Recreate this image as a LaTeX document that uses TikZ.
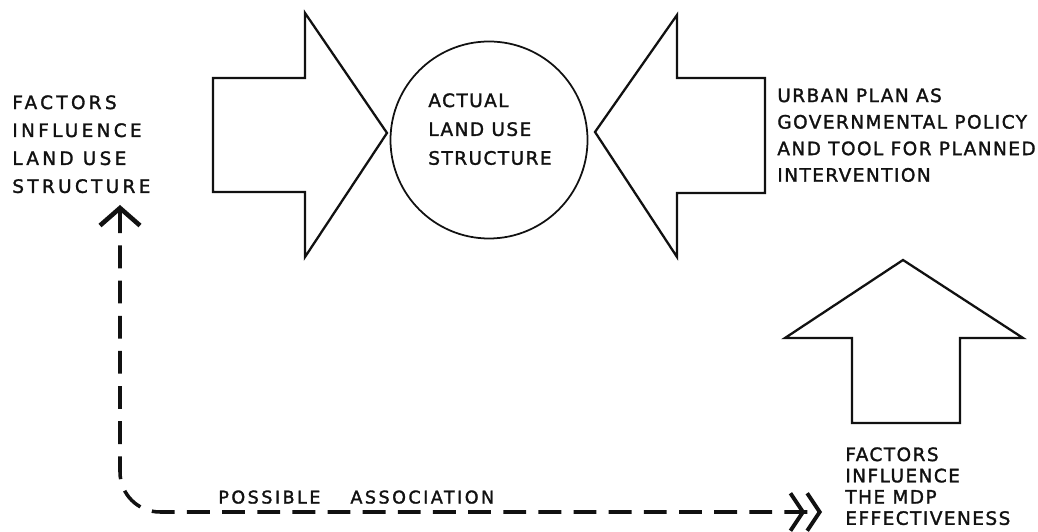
\documentclass[tikz,border=0pt]{standalone}
\usepackage{fontspec}
\usepackage{tikz}
\usetikzlibrary{arrows.meta}
\newfontfamily\handfont[LetterSpace=8, FakeBold=1.6]{DejaVu Sans}
\definecolor{ink}{HTML}{111111}

\begin{document}
\begin{tikzpicture}[
  bigarrow/.style={draw=ink, line width=1.3pt, line join=miter},
  handtext/.style={text=ink, align=left, inner sep=0pt, anchor=north west},
  assoc/.style={draw=ink, line width=2pt, dash pattern=on 13pt off 7pt, rounded corners=0.8cm}
]
  \useasboundingbox (0,0) rectangle (20.76,10.62);
  % 左边的大箭头，指向圆
  \draw[bigarrow] (4.26,9.06) -- (6.10,9.06) -- (6.10,10.36) -- (7.74,7.96)
    -- (6.10,5.48) -- (6.10,6.78) -- (4.26,6.78) -- cycle;
  % 右边的大箭头，指向圆
  \draw[bigarrow] (15.30,9.06) -- (13.54,9.06) -- (13.54,10.32) -- (11.90,7.98)
    -- (13.54,5.48) -- (13.54,6.76) -- (15.30,6.76) -- cycle;
  % 向上的箭头
  \draw[bigarrow] (17.04,2.16) -- (17.04,3.86) -- (15.70,3.86) -- (18.06,5.42)
    -- (20.46,3.86) -- (19.20,3.86) -- (19.20,2.16) -- cycle;
  % 圆：实际土地利用结构
  \node[draw=ink, line width=1.0pt, circle, minimum size=3.94cm, inner sep=0pt] (landuse) at (9.78,7.82) {};
  \node[handtext, font=\handfont\fontsize{10.5}{16.4}\selectfont] (actual) at (8.56,8.76) {ACTUAL\\LAND USE\\STRUCTURE};
  % 文字
  \node[handtext, font=\handfont\addfontfeature{LetterSpace=18}\fontsize{10.5}{15.9}\selectfont] (factorsland) at (0.24,8.72) {FACTORS\\INFLUENCE\\LAND USE\\STRUCTURE};
  \node[handtext, font=\handfont\fontsize{10.5}{15.1}\selectfont] (urbanplan) at (15.54,8.86) {URBAN PLAN AS\\GOVERNMENTAL POLICY\\AND TOOL FOR PLANNED\\INTERVENTION};
  \node[handtext, font=\handfont\fontsize{10.5}{12.1}\selectfont] (factorsmdp) at (16.90,1.68) {FACTORS\\INFLUENCE\\THE MDP\\EFFECTIVENESS};
  % 虚线：可能的关联
  \coordinate (assocstart) at (2.40,6.52);
  \coordinate (assocend) at (16.44,0.38);
  \draw[assoc, {Straight Barb[length=0.35cm, width=0.8cm, line width=2.6pt]}-{Straight Barb[length=0.25cm, width=0.75cm, line width=2.2pt] Straight Barb[length=0.25cm, width=0.75cm, line width=2.2pt]}]
    (assocstart) |- (assocend);
  \node[text=ink, inner sep=0pt, anchor=base west, font=\handfont\addfontfeature{LetterSpace=14}\fontsize{10}{12}\selectfont] (association) at (4.36,0.55) {POSSIBLE\hspace{0.6cm}ASSOCIATION};
\end{tikzpicture}
\end{document}
